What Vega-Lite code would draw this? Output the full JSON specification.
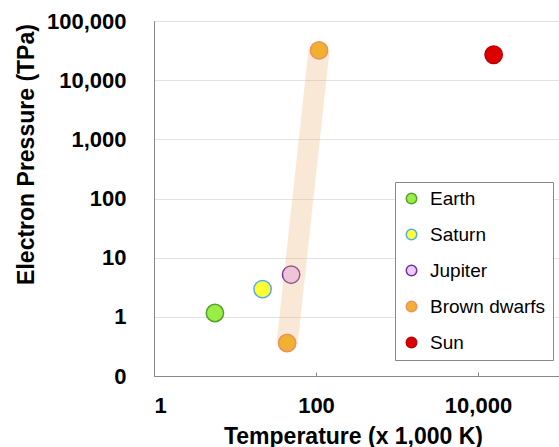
{
  "$schema": "https://vega.github.io/schema/vega-lite/v6.json",
  "width": 405,
  "height": 355,
  "autosize": {"type": "none"},
  "padding": {"left": 154, "top": 21, "right": 0, "bottom": 71},
  "background": "white",
  "config": {
    "view": {"stroke": "#888888", "strokeWidth": 1},
    "font": "Liberation Sans"
  },
  "data": {
    "values": [
      {"name": "Earth", "temp": 5.65, "pressure": 1.16},
      {"name": "Saturn", "temp": 21.9, "pressure": 2.95},
      {"name": "Jupiter", "temp": 49.3, "pressure": 5.15},
      {"name": "Brown dwarfs", "temp": 44, "pressure": 0.361},
      {"name": "Brown dwarfs", "temp": 109, "pressure": 31900},
      {"name": "Sun", "temp": 15600, "pressure": 26900}
    ]
  },
  "layer": [
    {
      "transform": [{"filter": "datum.name !== 'Brown dwarfs'"}],
      "mark": {"type": "point", "shape": "circle", "filled": true, "size": 300, "strokeWidth": 1.5, "opacity": 1},
      "encoding": {
        "x": {
          "field": "temp", "type": "quantitative",
          "scale": {"type": "log", "domain": [1, 100000], "nice": false},
          "axis": {
            "values": [1, 100, 10000], "format": ",.0f", "grid": false,
            "domainColor": "#888888", "tickColor": "#888888", "tickSize": -4,
            "labelFont": "Liberation Sans", "labelFontSize": 22, "labelFontWeight": "bold", "labelColor": "black",
            "labelBaseline": "alphabetic", "labelPadding": 40, "labelDx": -3,
            "title": "Temperature (x 1,000 K)", "titleFont": "Liberation Sans", "titleFontSize": 23, "titleFontWeight": "bold", "titleColor": "black",
            "titleX": 199, "titleY": 67, "titleBaseline": "alphabetic"
          }
        },
        "y": {
          "field": "pressure", "type": "quantitative",
          "scale": {"type": "log", "domain": [0.1, 100000], "nice": false},
          "axis": {
            "values": [0.1, 1, 10, 100, 1000, 10000, 100000], "format": ",.0f",
            "grid": true, "gridColor": "#e2e2e2", "gridWidth": 1,
            "domainColor": "#888888", "ticks": false, "tickSize": 0,
            "labelFont": "Liberation Sans", "labelFontSize": 22, "labelFontWeight": "bold", "labelColor": "black",
            "labelPadding": 28, "labelBaseline": "middle",
            "title": "Electron Pressure (TPa)", "titleFont": "Liberation Sans", "titleFontSize": 23, "titleFontWeight": "bold", "titleColor": "black",
            "titleX": -121, "titleY": 133, "titleBaseline": "alphabetic", "titleAngle": -90
          }
        },
        "fill": {
          "field": "name", "type": "nominal",
          "scale": {"domain": ["Earth", "Saturn", "Jupiter", "Brown dwarfs", "Sun"], "range": ["#99ee44", "#ffff33", "#eeccff", "#f0b030", "#dd0000"]},
          "legend": {
            "orient": "none", "legendX": 241, "legendY": 161, "title": null,
            "padding": 7, "strokeColor": "#888888", "fillColor": "white",
            "symbolType": "circle", "symbolSize": 110, "symbolStrokeWidth": 1.5,
            "labelFont": "Liberation Sans", "labelFontSize": 19, "labelColor": "black", "labelOffset": 9,
            "rowPadding": 16
          }
        },
        "stroke": {
          "field": "name", "type": "nominal",
          "scale": {"domain": ["Earth", "Saturn", "Jupiter", "Brown dwarfs", "Sun"], "range": ["#55a030", "#55aaee", "#7030a0", "#f09060", "#c00000"]},
          "legend": {
            "orient": "none", "legendX": 241, "legendY": 161, "title": null,
            "padding": 7, "strokeColor": "#888888", "fillColor": "white",
            "symbolType": "circle", "symbolSize": 110, "symbolStrokeWidth": 1.5,
            "labelFont": "Liberation Sans", "labelFontSize": 19, "labelColor": "black", "labelOffset": 9,
            "rowPadding": 16
          }
        }
      }
    },
    {
      "transform": [{"filter": "datum.name === 'Brown dwarfs'"}],
      "mark": {"type": "line", "color": "#eeb27a", "opacity": 0.3, "strokeWidth": 21, "strokeCap": "butt"},
      "encoding": {
        "x": {"field": "temp", "type": "quantitative"},
        "y": {"field": "pressure", "type": "quantitative"}
      }
    },
    {
      "transform": [{"filter": "datum.name === 'Brown dwarfs'"}],
      "mark": {"type": "point", "shape": "circle", "filled": true, "size": 300, "strokeWidth": 1.5, "opacity": 1},
      "encoding": {
        "x": {"field": "temp", "type": "quantitative"},
        "y": {"field": "pressure", "type": "quantitative"},
        "fill": {"field": "name", "type": "nominal"},
        "stroke": {"field": "name", "type": "nominal"}
      }
    }
  ]
}
